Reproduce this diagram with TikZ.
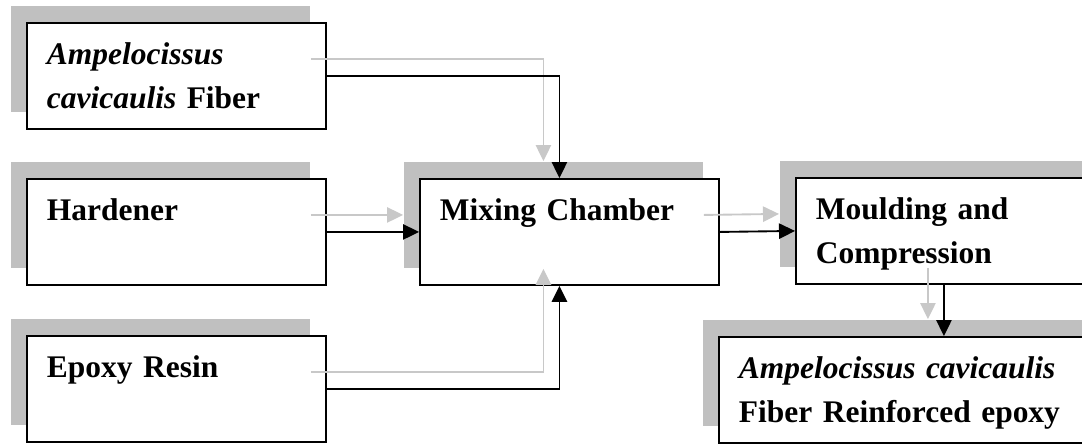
\documentclass[tikz,border=0pt]{standalone}
\usepackage{fontspec}
\setmainfont{Liberation Serif}
\usetikzlibrary{positioning, arrows.meta, shadows}

\definecolor{shadegray}{RGB}{192,192,192}
\definecolor{linegray}{RGB}{200,200,200}
\newcommand{\boxstrut}{\rule[-8.25pt]{0pt}{33pt}}

\begin{document}
\begin{tikzpicture}[
    x=0.75pt, y=-0.75pt,
    stage/.style={draw, line width=1.4pt, fill=white, anchor=north west,
        minimum width=224.25pt, minimum height=79.5pt, inner xsep=15pt,
        text width=194.25pt, align=left,
        font=\fontsize{23.6}{33}\selectfont\bfseries,
        general shadow={fill=shadegray, shadow xshift=-12pt, shadow yshift=12.75pt}},
    flow/.style={line width=1.4pt, -{Triangle[length=12pt, width=11.5pt]}},
    ghost/.style={draw=linegray, transform canvas={shift={(-12pt,12.75pt)}}},
]

    \useasboundingbox (0,0) rectangle (1082,444);
    \clip (0,0) rectangle (1082,444);

    \node[stage] (fiber)    at (26,22)  {\boxstrut\textit{Ampelocissus}\\\textit{cavicaulis} Fiber\boxstrut};
    \node[stage] (hardener) at (26,178) {\boxstrut Hardener\\\boxstrut};
    \node[stage] (epoxy)    at (26,335) {\boxstrut Epoxy Resin\\\boxstrut};
    \node[stage] (mixing)   at (419,178) {\boxstrut Mixing Chamber\\\boxstrut};
    \node[stage, minimum width=240pt, text width=210pt] (moulding) at (795,177)
        {\boxstrut Moulding and\\Compression\boxstrut};
    \node[stage, minimum width=285pt, text width=255pt] (final) at (718,336)
        {\boxstrut\textit{Ampelocissus cavicaulis}\\Fiber Reinforced epoxy\boxstrut};

    % grey copy first, black on top
    \foreach \layer in {ghost, black} {
        \draw[flow, \layer] (fiber.east) -| ([xshift=-7.5pt]mixing.north);
        \draw[flow, \layer] (hardener.east) -- (mixing.west);
        \draw[flow, \layer] (epoxy.east) -| ([xshift=-7.5pt]mixing.south);
        \draw[flow, \layer] (mixing.east) -- (moulding.west);
        \draw[flow, \layer] ([xshift=-9pt]moulding.south) -- ([xshift=-9pt]moulding.south |- final.north);
    }

\end{tikzpicture}
\end{document}
